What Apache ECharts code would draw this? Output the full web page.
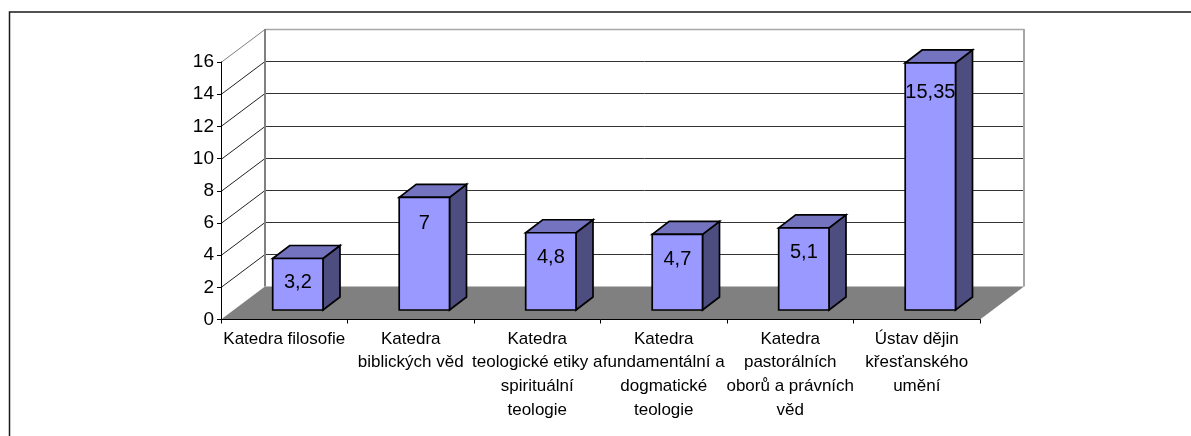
<!DOCTYPE html>
<html>
<head>
<meta charset="utf-8">
<style>
  html, body { margin: 0; padding: 0; background: #fff; }
  #chart { width: 1191px; height: 436px; }
</style>
<script src="https://cdn.jsdelivr.net/npm/echarts@6/dist/echarts.min.js"></script>
</head>
<body>
<div id="chart"></div>
<script>
// kategorie na ose x
const categories = [
  "Katedra filosofie",
  "Katedra\nbiblických věd",
  "Katedra\nteologické etiky a\nspirituální\nteologie",
  "Katedra\nfundamentální a\ndogmatické\nteologie",
  "Katedra\npastorálních\noborů a právních\nvěd",
  "Ústav dějin\nkřesťanského\numění",
];
const values = [3.2, 7, 4.8, 4.7, 5.1, 15.35];
const valueLabels = ["3,2", "7", "4,8", "4,7", "5,1", "15,35"];
const yTicks = [0, 2, 4, 6, 8, 10, 12, 14, 16];

const FONT = '"Liberation Sans", Arial, sans-serif';
// hloubka 3D pohledu
const depth = { x: 44, y: -33 };
const barShift = { x: 13.6, y: -9.5 };
const barDepth = { x: 17, y: -13 };
const barWidth = 50.3;

const poly = (points, fill, stroke, lineWidth) => ({
  type: "polygon",
  shape: { points },
  style: { fill, stroke, lineWidth },
});
const line = (x1, y1, x2, y2, stroke, lineWidth) => ({
  type: "line",
  shape: { x1, y1, x2, y2 },
  style: { stroke, lineWidth },
});

const renderWalls = (params, api) => {
  const rect = params.coordSys;
  const left = rect.x;
  const right = rect.x + rect.width;
  const y0 = api.coord([0, 0])[1];
  const yTop = api.coord([0, yTicks[yTicks.length - 1]])[1];
  const children = [
    poly(
      [
        [left + depth.x, yTop + depth.y],
        [right + depth.x, yTop + depth.y],
        [right + depth.x, y0 + depth.y],
        [left + depth.x, y0 + depth.y],
      ],
      "#fff",
      null,
      0
    ),
  ];
  yTicks.slice(1).forEach((tick) => {
    const y = Math.round(api.coord([0, tick])[1]) + 0.5;
    const color = tick === 16 ? "#a6a6a6" : "#333";
    const diag = tick === 16 ? "#808080" : "#222";
    children.push(line(left + depth.x, y + depth.y, right + depth.x, y + depth.y, color, tick === 16 ? 1.5 : 1));
    children.push(line(left, y, left + depth.x, y + depth.y, diag, 1));
  });
  children.push(line(left + depth.x, yTop + depth.y, left + depth.x, y0 + depth.y, "#808080", 2));
  children.push(line(right + depth.x, yTop + depth.y, right + depth.x, y0 + depth.y, "#a6a6a6", 2));
  children.push(
    poly(
      [
        [left, y0],
        [left + depth.x, y0 + depth.y],
        [right + depth.x, y0 + depth.y],
        [right, y0],
      ],
      "#808080",
      null,
      0
    )
  );
  return { type: "group", children };
};

const renderBar = (params, api) => {
  const i = api.value(0);
  const v = api.value(1);
  const base = api.coord([i, 0]);
  const top = api.coord([i, v]);
  const x0 = base[0] + barShift.x - barWidth / 2;
  const x1 = x0 + barWidth;
  const yb = base[1] + barShift.y;
  const yt = top[1] + barShift.y;
  const dx = barDepth.x;
  const dy = barDepth.y;
  // popisek sedí kousek pod horní hranou přední stěny
  const labelY = api.coord([i, v * 0.97])[1] + barShift.y + 22.5;
  return {
    type: "group",
    children: [
      poly([[x1, yb], [x1 + dx, yb + dy], [x1 + dx, yt + dy], [x1, yt]], "#4d4d80", "#000", 1.7),
      poly([[x0, yt], [x0 + dx, yt + dy], [x1 + dx, yt + dy], [x1, yt]], "#7373bf", "#000", 1.7),
      poly([[x0, yb], [x1, yb], [x1, yt], [x0, yt]], "#9999ff", "#000", 1.7),
      {
        type: "text",
        style: {
          x: (x0 + x1) / 2,
          y: labelY,
          text: valueLabels[params.dataIndex],
          fill: "#000",
          font: "20px " + FONT,
          align: "center",
          verticalAlign: "middle",
        },
      },
    ],
  };
};

const chart = echarts.init(document.getElementById("chart"));
chart.setOption({
  animation: false,
  backgroundColor: "#fff",
  graphic: [
    {
      type: "polyline",
      silent: true,
      shape: { points: [[9.5, 436], [9.5, 12], [1191, 12]] },
      style: { fill: null, stroke: "#1a1a1a", lineWidth: 1.5 },
    },
  ],
  grid: { left: 221, right: 211, top: 62, bottom: 116.5 },
  xAxis: {
    type: "category",
    data: categories,
    z: 5,
    axisLine: { lineStyle: { color: "#000", width: 1 } },
    axisTick: { show: true, length: 4, lineStyle: { color: "#000" } },
    axisLabel: {
      interval: 0,
      margin: 7.5,
      color: "#000",
      fontFamily: FONT,
      fontSize: 17,
      lineHeight: 23.7,
    },
  },
  yAxis: {
    type: "value",
    min: 0,
    max: 16,
    interval: 2,
    z: 5,
    axisLine: { show: true, lineStyle: { color: "#000", width: 1 } },
    axisTick: { show: true, length: 4, lineStyle: { color: "#000" } },
    splitLine: { show: false },
    axisLabel: { margin: 7, color: "#000", fontFamily: FONT, fontSize: 19 },
  },
  series: [
    { type: "custom", z: 1, silent: true, data: [[0, 0]], renderItem: renderWalls },
    {
      type: "custom",
      z: 6,
      data: values.map((v, i) => [i, v]),
      encode: { x: 0, y: 1 },
      renderItem: renderBar,
    },
  ],
});
</script>
</body>
</html>
